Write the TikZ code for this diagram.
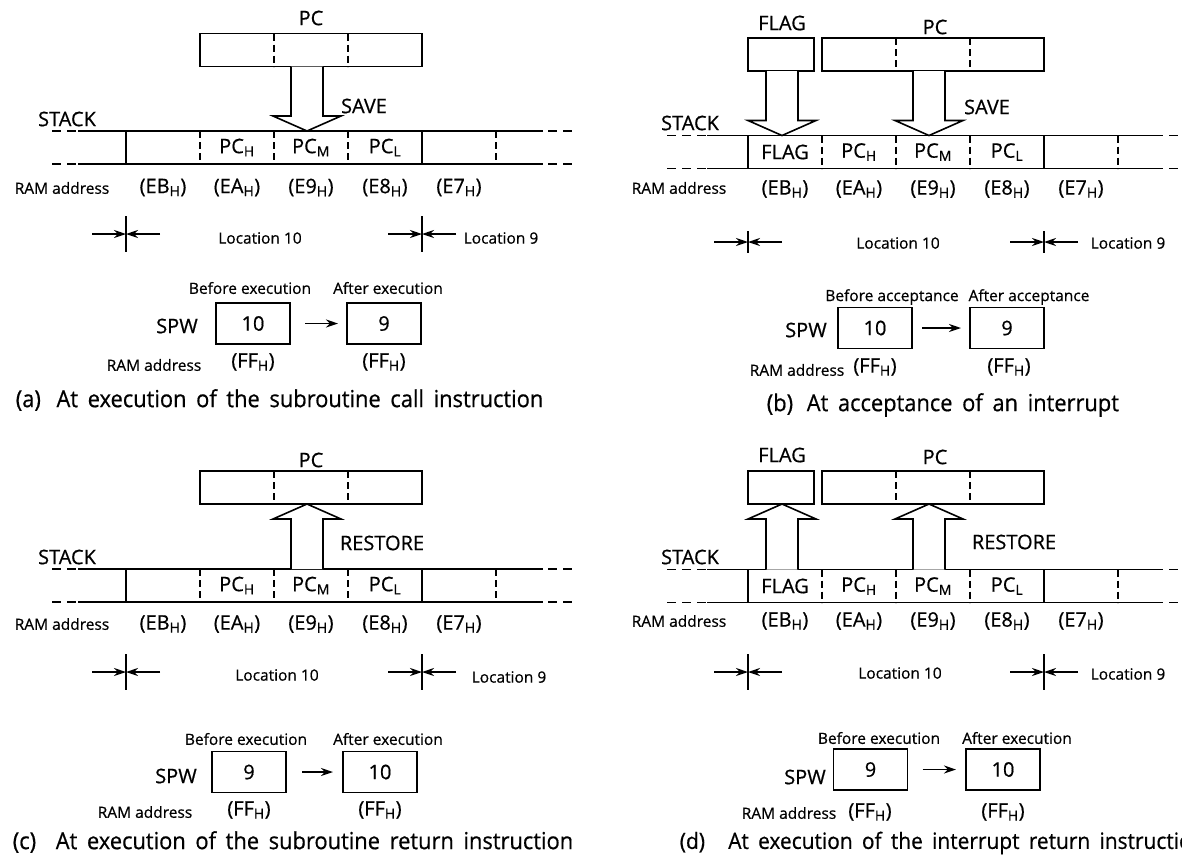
\documentclass[tikz,border=0pt]{standalone}
\usepackage{fontspec}
\setmainfont{Open Sans}[FakeBold=0.6]
\newfontfamily\capfont{Open Sans}[FakeBold=0.6, FakeStretch=0.93, WordSpace=1.7]
\usetikzlibrary{arrows.meta, positioning, calc}

\newcommand{\hx}[1]{(#1\textsubscript{H})}
% hollow block arrow: box above -> stack cell below
\newcommand{\saveto}[3]{%
  \draw[blockarrow] ($(#1.south)+(#3-16,0)$) -- ($(#1.south |- #2.north)+(#3-16,-15)$) -- ++(-18,0)
    -- ($(#1.south |- #2.north)+(#3,0)$) -- ($(#1.south |- #2.north)+(#3+34,-15)$) -- ++(-18,0)
    -- ($(#1.south)+(#3+16,0)$);}
% hollow block arrow: stack cell below -> box above
\newcommand{\restoreto}[3]{%
  \draw[blockarrow] ($(#2.south |- #1.north)+(#3-16,0)$) -- ($(#2.south)+(#3-16,15)$) -- ++(-18,0)
    -- ($(#2.south)+(#3,0)$) -- ($(#2.south)+(#3+34,15)$) -- ++(-18,0)
    -- ($(#2.south |- #1.north)+(#3+16,0)$);}

\begin{document}
\begin{tikzpicture}[
    x=1pt, y=-1pt,
    line width=1.6pt,
    lbl/.style={font=\fontsize{20}{22}\selectfont, inner sep=0pt},
    small/.style={font=\fontsize{15.5}{18}\selectfont, inner sep=0pt},
    caption/.style={font=\capfont\fontsize{23.5}{26}\selectfont, inner sep=0pt, anchor=west},
    cell/.style={minimum width=74pt, minimum height=33pt, inner sep=0pt, outer sep=0pt,
                 font=\fontsize{20}{22}\selectfont},
    regbox/.style={draw, minimum width=74pt, minimum height=41pt, inner sep=0pt, outer sep=0pt,
                 font=\fontsize{20}{22}\selectfont},
    divider/.style={dash pattern=on 7pt off 4pt},
    endline/.style={dash pattern=on 9pt off 6pt},
    ptr/.style={-{Stealth[length=12pt, width=8pt]}, line width=1.6pt},
    blockarrow/.style={line width=1.6pt, fill=white, line join=miter}
  ]
    \fill[white] (0,0) rectangle (1182,863);
    \useasboundingbox (0,0) rectangle (1182,863);
    \clip (0,0) rectangle (1182,863);

    % (a) subroutine call
    \node[lbl] (aPClbl) at (311,18) {PC};
    \node[cell] (aP1) at (237,50) {};
    \node[cell, right=0pt of aP1] (aP2) {};
    \node[cell, right=0pt of aP2] (aP3) {};
    \draw (aP1.north west) rectangle (aP3.south east);
    \draw[divider] (aP1.north east) -- (aP1.south east) (aP2.north east) -- (aP2.south east);
    \node[lbl] (aSTK) at (67,119) {STACK};
    \node[cell] (aS1) at (163,147.5) {};
    \node[cell, right=0pt of aS1] (aS2) {PC\textsubscript{H}};
    \node[cell, right=0pt of aS2] (aS3) {PC\textsubscript{M}};
    \node[cell, right=0pt of aS3] (aS4) {PC\textsubscript{L}};
    \node[cell, right=0pt of aS4] (aS5) {};
    \draw[endline] (52,131) -- (78,131) (52,164) -- (78,164) (548,131) -- (572,131) (548,164) -- (572,164);
    \draw (78,131) -- (543,131) (78,164) -- (543,164);
    \draw (aS1.north west) -- (aS1.south west) (aS4.north east) -- (aS4.south east);
    \draw[divider] (aS1.north east) -- (aS1.south east) (aS2.north east) -- (aS2.south east)
                   (aS3.north east) -- (aS3.south east) (aS5.north east) -- (aS5.south east);
    \node[small] (aRAM) at (62,188) {RAM address};
    \foreach \i/\a in {1/EB,2/EA,3/E9,4/E8,5/E7}
      \node[lbl] (aA\i) at ($(aS\i)+(0,40)$) {\hx{\a}};
    \saveto{aP2}{aS3}{-4}
    \node[lbl] (aSAVE) at (364,106) {SAVE};
    \coordinate (aL1) at (126,234);
    \coordinate (aL2) at (422,234);
    \foreach \c in {aL1,aL2} {
      \draw ($(\c)+(0,-18)$) -- ($(\c)+(0,18)$);
      \draw[ptr] ($(\c)+(-34,0)$) -- (\c);
      \draw[ptr] ($(\c)+(34,0)$) -- (\c);
    }
    \node[small] (aLoc10) at (260,238) {Location 10};
    \node[small] (aLoc9) at (501,238) {Location 9};
    \node[small] (aBef) at (250,288) {Before execution};
    \node[small] (aAft) at (388,288) {After execution};
    \node[lbl] (aSPW) at (177,326) {SPW};
    \node[regbox] (aB1) at (253,323.5) {10};
    \node[regbox] (aB2) at (384,323.5) {9};
    \draw[ptr, shorten <=15pt, shorten >=9pt] (aB1) -- (aB2);
    \node[small] (aRAM2) at (154,365) {RAM address};
    \node[lbl] (aFF1) at (253,362) {\hx{FF}};
    \node[lbl] (aFF2) at (384,362) {\hx{FF}};
    \node[caption] (aCap) at (15,400) {(a)\hspace{6pt} At execution of the subroutine call instruction};

    % (b) interrupt acceptance
    \node[lbl] (bFlbl) at (782,23) {FLAG};
    \node[lbl] (bPClbl) at (935,27) {PC};
    \node[cell, draw, minimum width=66pt] (bF) at (781,54.5) {};
    \node[cell] (bP1) at (859,54.5) {};
    \node[cell, right=0pt of bP1] (bP2) {};
    \node[cell, right=0pt of bP2] (bP3) {};
    \draw (bP1.north west) rectangle (bP3.south east);
    \draw[divider] (bP1.north east) -- (bP1.south east) (bP2.north east) -- (bP2.south east);
    \node[lbl] (bSTK) at (690,123) {STACK};
    \node[cell] (bS1) at (785,152) {FLAG};
    \node[cell, right=0pt of bS1] (bS2) {PC\textsubscript{H}};
    \node[cell, right=0pt of bS2] (bS3) {PC\textsubscript{M}};
    \node[cell, right=0pt of bS3] (bS4) {PC\textsubscript{L}};
    \node[cell, right=0pt of bS4] (bS5) {};
    \draw[endline] (667,135.5) -- (707,135.5) (667,168.5) -- (707,168.5) (1169,135.5) -- (1190,135.5) (1169,168.5) -- (1190,168.5);
    \draw (707,135.5) -- (1163,135.5) (707,168.5) -- (1163,168.5);
    \draw (bS1.north west) -- (bS1.south west) (bS4.north east) -- (bS4.south east);
    \draw[divider] (bS1.north east) -- (bS1.south east) (bS2.north east) -- (bS2.south east)
                   (bS3.north east) -- (bS3.south east) (bS5.north east) -- (bS5.south east);
    \node[small] (bRAM) at (679,188) {RAM address};
    \foreach \i/\a in {1/EB,2/EA,3/E9,4/E8,5/E7}
      \node[lbl] (bA\i) at ($(bS\i)+(0,37)$) {\hx{\a}};
    \saveto{bF}{bS1}{1}
    \saveto{bP2}{bS3}{-4}
    \node[lbl] (bSAVE) at (987,107) {SAVE};
    \coordinate (bL1) at (748,242);
    \coordinate (bL2) at (1044,242);
    \foreach \c in {bL1,bL2} {
      \draw ($(\c)+(0,-11)$) -- ($(\c)+(0,11)$);
      \draw[ptr] ($(\c)+(-34,0)$) -- (\c);
      \draw[ptr] ($(\c)+(34,0)$) -- (\c);
    }
    \node[small] (bLoc10) at (898,243) {Location 10};
    \node[small] (bLoc9) at (1128,243) {Location 9};
    \node[small] (bBef) at (892,297) {Before acceptance};
    \node[small] (bAft) at (1029,297) {After acceptance};
    \node[lbl] (bSPW) at (806,330) {SPW};
    \node[regbox] (bB1) at (875,328) {10};
    \node[regbox] (bB2) at (1007,328) {9};
    \draw[ptr, shorten <=10pt, shorten >=9pt] (bB1) -- (bB2);
    \node[small] (bRAM2) at (797,370) {RAM address};
    \node[lbl] (bFF1) at (875,367) {\hx{FF}};
    \node[lbl] (bFF2) at (1009,367) {\hx{FF}};
    \node[caption] (bCap) at (766,405) {(b)\hspace{4pt} At acceptance of an interrupt};

    % (c) subroutine return
    \node[lbl] (cPClbl) at (311,460) {PC};
    \node[cell] (cP1) at (237,487.5) {};
    \node[cell, right=0pt of cP1] (cP2) {};
    \node[cell, right=0pt of cP2] (cP3) {};
    \draw (cP1.north west) rectangle (cP3.south east);
    \draw[divider] (cP1.north east) -- (cP1.south east) (cP2.north east) -- (cP2.south east);
    \node[lbl] (cSTK) at (67,557) {STACK};
    \node[cell] (cS1) at (163,585.5) {};
    \node[cell, right=0pt of cS1] (cS2) {PC\textsubscript{H}};
    \node[cell, right=0pt of cS2] (cS3) {PC\textsubscript{M}};
    \node[cell, right=0pt of cS3] (cS4) {PC\textsubscript{L}};
    \node[cell, right=0pt of cS4] (cS5) {};
    \draw[endline] (52,569) -- (78,569) (52,602) -- (78,602) (548,569) -- (572,569) (548,602) -- (572,602);
    \draw (78,569) -- (543,569) (78,602) -- (543,602);
    \draw (cS1.north west) -- (cS1.south west) (cS4.north east) -- (cS4.south east);
    \draw[divider] (cS1.north east) -- (cS1.south east) (cS2.north east) -- (cS2.south east)
                   (cS3.north east) -- (cS3.south east) (cS5.north east) -- (cS5.south east);
    \node[small] (cRAM) at (62,624) {RAM address};
    \foreach \i/\a in {1/EB,2/EA,3/E9,4/E8,5/E7}
      \node[lbl] (cA\i) at ($(cS\i)+(0,38.5)$) {\hx{\a}};
    \restoreto{cS3}{cP2}{-4}
    \node[lbl] (cREST) at (382,543) {RESTORE};
    \coordinate (cL1) at (126,672);
    \coordinate (cL2) at (422,672);
    \foreach \c in {cL1,cL2} {
      \draw ($(\c)+(0,-18)$) -- ($(\c)+(0,18)$);
      \draw[ptr] ($(\c)+(-34,0)$) -- (\c);
      \draw[ptr] ($(\c)+(34,0)$) -- (\c);
    }
    \node[small] (cLoc10) at (277,675) {Location 10};
    \node[small] (cLoc9) at (509,677) {Location 9};
    \node[small] (cBef) at (246,739) {Before execution};
    \node[small] (cAft) at (388,739) {After execution};
    \node[lbl] (cSPW) at (176,776) {SPW};
    \node[regbox] (cB1) at (249,772) {9};
    \node[regbox] (cB2) at (380,772) {10};
    \draw[ptr, shorten <=16pt, shorten >=10pt] (cB1) -- (cB2);
    \node[small] (cRAM2) at (145,812) {RAM address};
    \node[lbl] (cFF1) at (249,810) {\hx{FF}};
    \node[lbl] (cFF2) at (380,810) {\hx{FF}};
    \node[caption] (cCap) at (12,842) {(c)\hspace{10pt} At execution of the subroutine return instruction};

    % (d) interrupt return
    \node[lbl] (dFlbl) at (782,455) {FLAG};
    \node[lbl] (dPClbl) at (935,457) {PC};
    \node[cell, draw, minimum width=66pt] (dF) at (781,487.5) {};
    \node[cell] (dP1) at (859,487.5) {};
    \node[cell, right=0pt of dP1] (dP2) {};
    \node[cell, right=0pt of dP2] (dP3) {};
    \draw (dP1.north west) rectangle (dP3.south east);
    \draw[divider] (dP1.north east) -- (dP1.south east) (dP2.north east) -- (dP2.south east);
    \node[lbl] (dSTK) at (690,557) {STACK};
    \node[cell] (dS1) at (785,586) {FLAG};
    \node[cell, right=0pt of dS1] (dS2) {PC\textsubscript{H}};
    \node[cell, right=0pt of dS2] (dS3) {PC\textsubscript{M}};
    \node[cell, right=0pt of dS3] (dS4) {PC\textsubscript{L}};
    \node[cell, right=0pt of dS4] (dS5) {};
    \draw[endline] (667,569.5) -- (707,569.5) (667,602.5) -- (707,602.5) (1169,569.5) -- (1190,569.5) (1169,602.5) -- (1190,602.5);
    \draw (707,569.5) -- (1163,569.5) (707,602.5) -- (1163,602.5);
    \draw (dS1.north west) -- (dS1.south west) (dS4.north east) -- (dS4.south east);
    \draw[divider] (dS1.north east) -- (dS1.south east) (dS2.north east) -- (dS2.south east)
                   (dS3.north east) -- (dS3.south east) (dS5.north east) -- (dS5.south east);
    \node[small] (dRAM) at (679,621) {RAM address};
    \foreach \i/\a in {1/EB,2/EA,3/E9,4/E8,5/E7}
      \node[lbl] (dA\i) at ($(dS\i)+(0,35)$) {\hx{\a}};
    \restoreto{dS1}{dF}{1}
    \restoreto{dS3}{dP2}{-4}
    \node[lbl] (dREST) at (1014,542) {RESTORE};
    \coordinate (dL1) at (748,672);
    \coordinate (dL2) at (1044,672);
    \foreach \c in {dL1,dL2} {
      \draw ($(\c)+(0,-18)$) -- ($(\c)+(0,18)$);
      \draw[ptr] ($(\c)+(-34,0)$) -- (\c);
      \draw[ptr] ($(\c)+(34,0)$) -- (\c);
    }
    \node[small] (dLoc10) at (900,673) {Location 10};
    \node[small] (dLoc9) at (1128,674) {Location 9};
    \node[small] (dBef) at (879,738) {Before execution};
    \node[small] (dAft) at (1017,738) {After execution};
    \node[lbl] (dSPW) at (805,777) {SPW};
    \node[regbox] (dB1) at (870.5,769.5) {9};
    \node[regbox] (dB2) at (1003,769.5) {10};
    \draw[ptr, shorten <=15pt, shorten >=10pt] (dB1) -- (dB2);
    \node[small] (dRAM2) at (789,813) {RAM address};
    \node[lbl] (dFF1) at (870,812) {\hx{FF}};
    \node[lbl] (dFF2) at (1003,812) {\hx{FF}};
    \node[caption, font=\capfont\fontsize{22.5}{25}\selectfont] (dCap) at (679,843) {(d)\hspace{14pt} At execution of the interrupt return instruction};
\end{tikzpicture}
\end{document}
